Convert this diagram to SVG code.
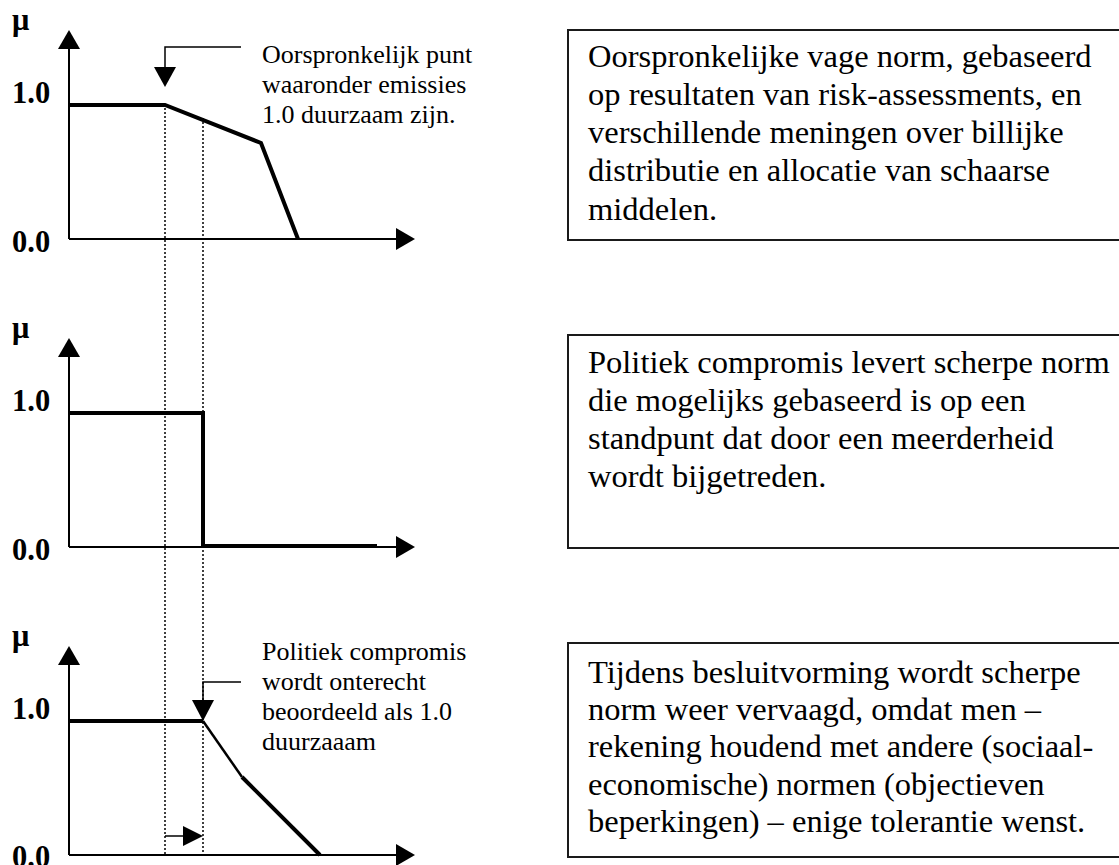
<svg xmlns="http://www.w3.org/2000/svg" width="1119" height="865" viewBox="0 0 1119 865">
<defs>
<style>
.lbl{font-family:"Liberation Serif","Times New Roman",serif;font-weight:bold;font-size:30.5px;fill:#000}
.ann{font-family:"Liberation Serif","Times New Roman",serif;font-size:26px;fill:#000}
.box{font-family:"Liberation Serif","Times New Roman",serif;font-size:32.5px;fill:#000}
.axis{stroke:#000;stroke-width:2;fill:none}
.thick{stroke:#000;stroke-width:4;fill:none;stroke-linejoin:miter}
.dot{stroke:#000;stroke-width:1.5;stroke-dasharray:2 2;fill:none}
.frame{fill:#fff;stroke:#1a1a1a;stroke-width:2}
.lead{stroke:#000;stroke-width:1.5;fill:none}
.head{fill:#000}
</style>
</defs>
<rect width="1119" height="865" fill="#fff"/>

<g id="guides">
<line class="dot" x1="165" y1="108" x2="165" y2="855"/>
<line class="dot" x1="203" y1="118" x2="203" y2="855"/>
</g>

<g id="graph1">
<line class="axis" x1="69" y1="239" x2="69" y2="48"/>
<polygon class="head" points="58,49 80,49 69,30"/>
<line class="axis" x1="69" y1="239" x2="397" y2="239"/>
<polygon class="head" points="396,228 396,250 415,239"/>
<text class="lbl" x="12" y="30">μ</text>
<text class="lbl" x="12" y="103">1.0</text>
<text class="lbl" x="12" y="252">0.0</text>
<polyline class="thick" points="69,105 165,105 261,143 298,239"/>
</g>

<g id="graph2">
<line class="axis" x1="69" y1="547" x2="69" y2="356"/>
<polygon class="head" points="58,357 80,357 69,338"/>
<line class="axis" x1="69" y1="547" x2="397" y2="547"/>
<polygon class="head" points="396,536 396,558 415,547"/>
<text class="lbl" x="12" y="338">μ</text>
<text class="lbl" x="12" y="411">1.0</text>
<text class="lbl" x="12" y="560">0.0</text>
<polyline class="thick" points="69,413 203,413 203,546 377,546"/>
</g>

<g id="graph3">
<line class="axis" x1="69" y1="855" x2="69" y2="664"/>
<polygon class="head" points="58,665 80,665 69,646"/>
<line class="axis" x1="69" y1="855" x2="397" y2="855"/>
<polygon class="head" points="396,844 396,866 415,855"/>
<text class="lbl" x="12" y="646">μ</text>
<text class="lbl" x="12" y="719">1.0</text>
<text class="lbl" x="12" y="867">0.0</text>
<polyline class="thick" points="69,721 203,721"/>
<line stroke="#000" stroke-width="2.5" x1="203" y1="721" x2="242" y2="777"/>
<line stroke="#000" stroke-width="4" x1="242" y1="777" x2="320" y2="855"/>
</g>

<g id="connectors">
<polyline class="lead" points="241,47 165,47 165,68"/>
<polygon class="head" points="154,67 176,67 165,87"/>
<polyline class="lead" points="241,682 203,682 203,701"/>
<polygon class="head" points="192,700 214,700 203,721"/>
<line class="lead" x1="165" y1="836" x2="184" y2="836"/>
<polygon class="head" points="183,826 183,846 203,836"/>
</g>

<g id="note1">
<text class="ann" x="262" y="63">Oorspronkelijk punt</text>
<text class="ann" x="262" y="93">waaronder emissies</text>
<text class="ann" x="262" y="123">1.0 duurzaam zijn.</text>
</g>

<g id="note2">
<text class="ann" x="262" y="660">Politiek compromis</text>
<text class="ann" x="262" y="690">wordt onterecht</text>
<text class="ann" x="262" y="720">beoordeeld als 1.0</text>
<text class="ann" x="262" y="750">duurzaaam</text>
</g>

<g id="box1">
<rect class="frame" x="568" y="30" width="560" height="210"/>
<text class="box" x="588" y="67">Oorspronkelijke vage norm, gebaseerd</text>
<text class="box" x="588" y="105">op resultaten van risk-assessments, en</text>
<text class="box" x="588" y="143">verschillende meningen over billijke</text>
<text class="box" x="588" y="181">distributie en allocatie van schaarse</text>
<text class="box" x="588" y="220">middelen.</text>
</g>

<g id="box2">
<rect class="frame" x="568" y="335" width="560" height="213"/>
<text class="box" x="588" y="373">Politiek compromis levert scherpe norm</text>
<text class="box" x="588" y="411">die mogelijks gebaseerd is op een</text>
<text class="box" x="588" y="449">standpunt dat door een meerderheid</text>
<text class="box" x="588" y="487">wordt bijgetreden.</text>
</g>

<g id="box3">
<rect class="frame" x="568" y="643" width="560" height="214"/>
<text class="box" x="588" y="683">Tijdens besluitvorming wordt scherpe</text>
<text class="box" x="588" y="720">norm weer vervaagd, omdat men –</text>
<text class="box" x="588" y="757">rekening houdend met andere (sociaal-</text>
<text class="box" x="588" y="795">economische) normen (objectieven</text>
<text class="box" x="588" y="832">beperkingen) – enige tolerantie wenst.</text>
</g>
</svg>
